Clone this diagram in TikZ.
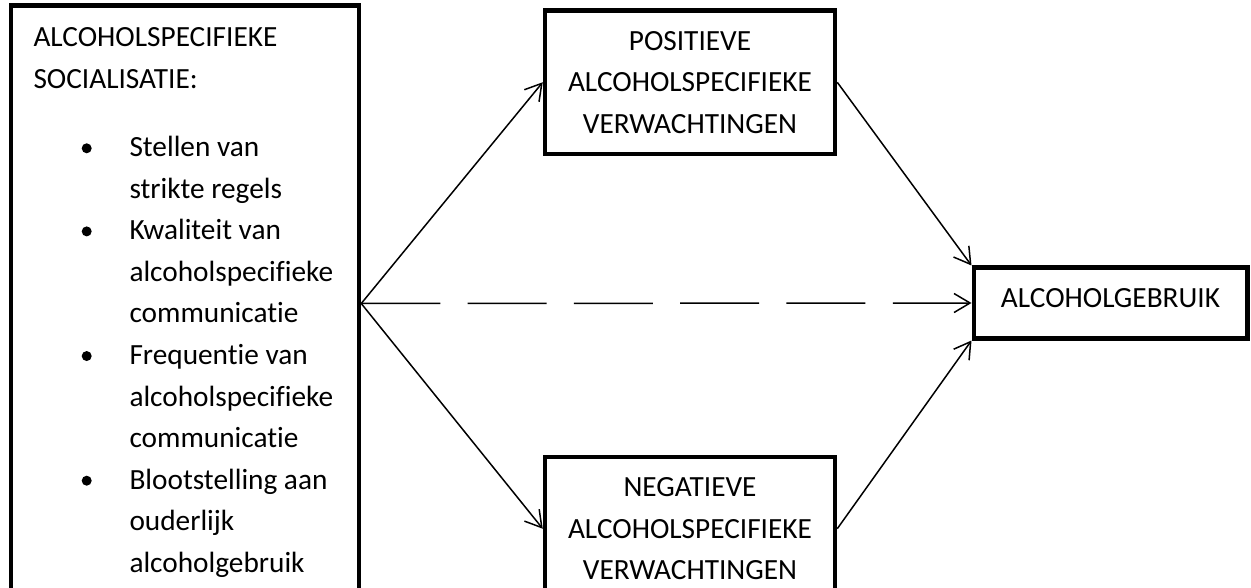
\documentclass[tikz,border=0pt]{standalone}
\usepackage{fontspec}
\setmainfont{Carlito}[Ligatures=NoCommon]
\usetikzlibrary{arrows.meta}
\begin{document}
\begin{tikzpicture}[x=1pt,y=-1pt,
  boxstyle/.style={draw, line width=4.5pt, rectangle, inner sep=0pt, align=center,
    font=\fontsize{29.3}{41.6}\selectfont},
  txt/.style={inner sep=0pt, anchor=base west, font=\fontsize{29.3}{41.6}\selectfont},
  link/.style={line width=1.5pt, -{Straight Barb[length=16pt,width=19pt]}},
  dot/.style={circle, fill, draw=none, inner sep=0pt, minimum size=10pt}]
\useasboundingbox (0,0) rectangle (1251,588);
% boxes
\node[boxstyle, minimum width=348pt, minimum height=596pt] (soc) at (185,303.5) {};
\node[boxstyle, minimum width=290pt, minimum height=143.5pt] (pos) at (690,82.25)
  {POSITIEVE\\ALCOHOLSPECIFIEKE\\VERWACHTINGEN};
\node[boxstyle, minimum width=290pt, minimum height=143.5pt] (neg) at (690,528.75)
  {NEGATIEVE\\ALCOHOLSPECIFIEKE\\VERWACHTINGEN};
\node[boxstyle, minimum width=273.5pt, minimum height=70.5pt, text height=9.1pt, text depth=0pt]
  (use) at (1110.5,303) {ALCOHOLGEBRUIK};
% left box text
\node[txt] (h1) at (33.3,46.7) {ALCOHOLSPECIFIEKE};
\node[txt] (h2) at (33.3,88.3) {SOCIALISATIE:};
\foreach \t [count=\k from 0] in {Stellen van, strikte regels, Kwaliteit van,
  alcoholspecifieke, communicatie, Frequentie van, alcoholspecifieke, communicatie,
  Blootstelling aan, ouderlijk, alcoholgebruik}
  \node[txt] (it\k) at (129.3,{156.7+41.55*\k}) {\t};
\foreach \k in {0,2,5,8}
  \node[dot] (b\k) at (86.7,{148.3+41.55*\k}) {};
% connectors
\draw[link] (soc.east) -- (pos.west);
\draw[link] (soc.east) -- (neg.west);
\draw[link, dash pattern=on 79pt off 27.3pt] (soc.east) -- (use.west);
\draw[link] (pos.east) -- (use.north west);
\draw[link] (neg.east) -- (use.south west);
\end{tikzpicture}
\end{document}
